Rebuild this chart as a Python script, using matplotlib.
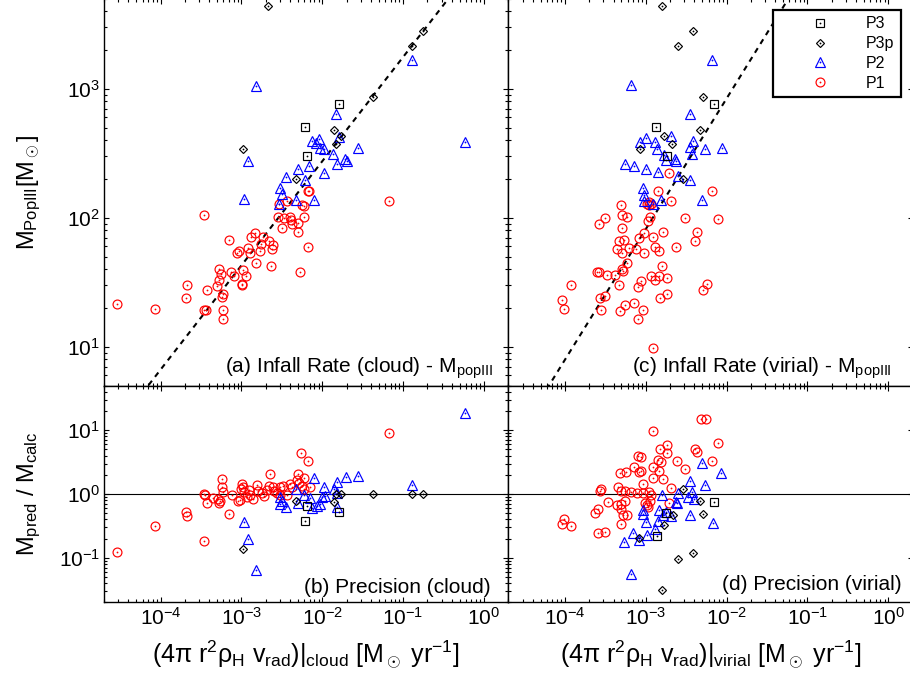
import numpy as np
import matplotlib
matplotlib.use('Agg')
import matplotlib.pyplot as plt

plt.rcParams['font.family'] = ['Liberation Sans', 'DejaVu Sans']
plt.rcParams['mathtext.fontset'] = 'custom'
plt.rcParams['mathtext.rm'] = 'Liberation Sans'
plt.rcParams['mathtext.it'] = 'Liberation Sans:italic'
plt.rcParams['mathtext.bf'] = 'Liberation Sans:bold'
plt.rcParams['mathtext.sf'] = 'Liberation Sans'
plt.rcParams['axes.linewidth'] = 1.0

# all values are log10 of the quantity
# (a) cloud infall rate vs Pop III mass
a_p3_rate = [-1.794, -2.218, -2.189]
a_p3_mass = [2.879, 2.703, 2.481]
a_p3p_rate = [-2.675, -0.757, -0.893, -1.374, -1.860, -1.770, -1.835, -2.979, -2.329]
a_p3p_mass = [3.643, 3.447, 3.336, 2.938, 2.682, 2.638, 2.576, 2.532, 2.302]
a_p2_rate = [-2.823, -0.889, -0.239, -1.827, -2.123, -2.041, -2.074, -2.025, -1.975,
             -1.794, -1.560, -1.868, -1.724, -1.695, -1.819, -2.918, -2.296, -2.165,
             -2.453, -2.214, -1.975, -2.527, -2.494, -2.329, -2.103, -2.963, -2.539]
a_p2_mass = [3.026, 3.222, 2.592, 2.809, 2.599, 2.612, 2.581, 2.540, 2.532,
             2.628, 2.543, 2.494, 2.457, 2.444, 2.421, 2.442, 2.382, 2.403,
             2.318, 2.292, 2.351, 2.233, 2.183, 2.137, 2.142, 2.145, 2.106]
a_p1_rate = [-3.465, -1.177, -2.181, -2.165, -2.247, -2.230, -2.531, -2.436, -2.551,
             -2.477, -2.395, -2.383, -2.230, -2.494, -2.374, -2.305, -2.296, -2.181,
             -2.831, -2.881, -2.733, -2.658, -2.609, -2.617, -3.152, -3.029, -3.049,
             -2.914, -2.897, -2.774, -2.757, -2.815, -2.634, -2.272, -3.276, -3.251,
             -3.280, -3.300, -3.128, -3.095, -2.979, -2.947, -2.988, -2.996, -3.671,
             -3.687, -3.424, -3.230, -3.235, -3.457, -3.440, -3.230, -3.230, -4.066, -4.535]
a_p1_mass = [2.021, 2.132, 2.207, 2.207, 2.101, 2.093, 2.111, 2.127, 2.003,
             1.997, 2.003, 1.987, 2.003, 1.920, 1.951, 1.961, 1.891, 1.775,
             1.886, 1.848, 1.848, 1.817, 1.788, 1.755, 1.827, 1.744, 1.724,
             1.770, 1.731, 1.744, 1.801, 1.651, 1.630, 1.581, 1.602, 1.563,
             1.522, 1.470, 1.584, 1.553, 1.594, 1.553, 1.491, 1.483, 1.478,
             1.382, 1.437, 1.413, 1.388, 1.287, 1.287, 1.289, 1.214, 1.297, 1.336]

# (c) virial infall rate vs Pop III mass
c_p3_rate = [-2.152, -2.868, -2.737]
c_p3_mass = [2.879, 2.703, 2.481]
c_p3p_rate = [-2.798, -2.412, -2.605, -2.292, -2.333, -2.778, -2.671, -3.074, -2.535]
c_p3p_mass = [3.643, 3.447, 3.336, 2.938, 2.682, 2.633, 2.576, 2.532, 2.300]
c_p2_rate = [-3.177, -2.177, -2.062, -2.457, -3.074, -2.992, -2.889, -2.683, -2.860,
             -2.412, -2.449, -2.263, -2.774, -2.753, -2.634, -2.621, -2.428, -3.259,
             -3.144, -2.992, -2.844, -2.605, -2.449, -3.037, -3.025, -3.021, -2.909,
             -2.811, -2.309]
c_p2_mass = [3.031, 3.222, 2.540, 2.809, 2.592, 2.618, 2.592, 2.633, 2.535,
             2.599, 2.548, 2.535, 2.488, 2.447, 2.460, 2.442, 2.494, 2.419,
             2.401, 2.382, 2.357, 2.323, 2.297, 2.233, 2.181, 2.132, 2.106,
             2.142, 2.142]
c_p1_rate = [-2.708, -2.181, -2.844, -2.683, -3.300, -2.990, -2.960, -2.930, -2.960,
             -3.292, -3.230, -3.502, -3.580, -2.947, -2.967, -2.519, -2.107, -3.292,
             -3.025, -2.790, -2.370, -3.078, -2.905, -2.395, -3.329, -3.267, -3.202,
             -3.358, -3.292, -3.119, -3.021, -2.889, -2.840, -2.621, -3.235, -2.798,
             -3.292, -3.276, -3.605, -3.580, -3.473, -3.374, -2.938, -2.840, -2.889,
             -2.737, -3.062, -3.095, -3.333, -3.926, -2.239, -2.296, -2.733, -2.823,
             -3.506, -3.564, -4.033, -4.016, -3.547, -3.317, -3.251, -3.144, -3.037,
             -3.095, -2.905]
c_p1_mass = [2.346, 2.207, 2.207, 2.132, 2.098, 2.106, 2.101, 2.106, 2.121,
             2.021, 2.003, 1.997, 1.951, 2.003, 1.977, 1.997, 1.995, 1.920,
             1.884, 1.891, 1.891, 1.842, 1.848, 1.819, 1.817, 1.827, 1.770,
             1.755, 1.724, 1.755, 1.731, 1.775, 1.744, 1.775, 1.651, 1.630,
             1.605, 1.589, 1.581, 1.581, 1.556, 1.558, 1.553, 1.548, 1.522,
             1.530, 1.509, 1.465, 1.481, 1.481, 1.488, 1.437, 1.413, 1.382,
             1.393, 1.377, 1.362, 1.297, 1.289, 1.279, 1.323, 1.341, 1.289,
             1.214, 0.995]

# (b) cloud infall rate vs M_pred / M_calc
b_p3_rate = [-2.189, -2.218, -1.794]
b_p3_prec = [-0.187, -0.431, -0.275]
b_p3p_rate = [-2.979, -2.329, -1.860, -1.835, -1.770, -1.374, -0.893, -0.757]
b_p3p_prec = [-0.862, -0.114, -0.119, 0.0, 0.0, 0.0, 0.0, 0.0]
b_p2_rate = [-0.239, -2.099, -1.975, -1.819, -1.704, -1.564, -0.889, -1.860, -2.321,
             -2.222, -2.156, -2.008, -1.967, -2.527, -2.519, -2.453, -2.305, -2.123,
             -2.066, -2.033, -1.819, -2.963, -2.914, -2.823, -1.819, -2.500]
b_p2_prec = [1.273, 0.244, 0.114, 0.192, 0.260, 0.281, 0.145, 0.073, 0.073,
             -0.021, -0.068, -0.052, -0.031, -0.052, -0.156, -0.208, -0.145, -0.223,
             -0.182, -0.156, -0.197, -0.442, -0.701, -1.200, 0.010, -0.104]
b_p1_rate = [-4.535, -4.066, -3.687, -3.671, -3.465, -3.152, -1.177, -2.263, -2.181,
             -2.305, -2.642, -3.235, -2.222,
             -3.457, -3.449, -3.424, -3.292, -3.276, -3.259, -3.239, -3.226, -3.115,
             -3.045, -3.021, -2.996, -2.979, -2.963, -2.930, -2.897, -2.856, -2.807,
             -2.790, -2.741, -2.683, -2.658, -2.609, -2.560, -2.519, -2.486, -2.436,
             -2.403, -2.379, -2.288, -2.255, -2.230, -2.156, -2.519, -2.313,
             -3.350, -2.900, -2.600, -2.720, -3.000]
b_p1_prec = [-0.914, -0.509, -0.286, -0.353, -0.743, -0.312, 0.961, 0.649, 0.514,
             0.312, 0.306, 0.229, 0.249,
             0.0, -0.021, -0.135, -0.083, -0.145, -0.114, 0.114, 0.036, -0.021,
             -0.114, -0.094, 0.156, 0.114, 0.036, -0.042, -0.016, -0.083, 0.135,
             0.042, 0.010, 0.062, 0.125, 0.114, 0.010, 0.114, 0.125, -0.021,
             0.156, 0.114, 0.177, 0.125, 0.073, 0.104, -0.016, 0.218,
             -0.060, 0.060, 0.050, -0.030, 0.080]

# (d) virial infall rate vs M_pred / M_calc
d_p3_rate = [-2.156, -2.749, -2.860]
d_p3_prec = [-0.125, -0.302, -0.656]
d_p3p_rate = [-2.535, -2.329, -2.667, -2.288, -2.774, -3.078, -2.601, -2.412, -2.798]
d_p3p_prec = [0.073, -0.104, -0.333, -0.313, -0.490, -0.698, -1.016, -0.932, -1.510]
d_p2_rate = [-2.305, -2.066, -2.453, -2.263, -2.428, -2.601, -2.798, -2.477, -2.403,
             -2.626, -2.609, -2.840, -2.749, -2.691, -2.782, -3.037, -3.029, -2.453,
             -2.992, -2.848, -2.173, -2.881, -3.152, -2.979, -3.078, -3.267, -3.177]
d_p2_prec = [0.479, 0.333, 0.198, 0.141, 0.026, 0.010, -0.021, -0.052, -0.073,
             -0.125, -0.146, -0.250, -0.281, -0.344, -0.333, -0.313, -0.250, -0.323,
             -0.438, -0.427, -0.448, -0.542, -0.615, -0.646, -0.719, -0.750, -1.250]
d_p1_rate = [-2.313, -2.251, -2.905, -2.107, -2.733, -2.823, -2.387, -2.362, -2.733,
             -3.095, -3.053, -2.181, -2.848, -2.807, -2.617, -2.905, -2.831, -2.519,
             -3.144, -3.078, -3.053, -3.317, -3.243, -2.905, -2.790, -3.029, -2.683,
             -3.342, -3.547, -3.564, -3.300, -3.251, -3.177, -3.111, -3.029, -2.963,
             -2.930, -3.465, -3.358, -3.300, -3.259, -3.012, -2.979, -2.947, -2.971,
             -2.708, -3.588, -3.621, -3.300, -3.276, -3.235, -3.300, -4.016, -4.033,
             -3.926, -3.588, -3.506]
d_p1_prec = [1.172, 1.172, 0.990, 0.807, 0.766, 0.698, 0.698, 0.656, 0.646,
             0.599, 0.583, 0.521, 0.531, 0.500, 0.516, 0.417, 0.359, 0.396,
             0.417, 0.344, 0.365, 0.323, 0.344, 0.245, 0.240, 0.156, 0.094,
             0.104, 0.073, 0.052, 0.052, 0.052, 0.031, 0.010, 0.010, 0.031,
             -0.010, -0.120, -0.177, -0.156, -0.104, -0.146, -0.167, -0.115, -0.198,
             -0.135, -0.240, -0.292, -0.240, -0.323, -0.323, -0.469, -0.396, -0.469,
             -0.500, -0.615, -0.594]

# fitted relations (log M = slope * log rate + icpt)
fit_cloud = (0.808, 4.055)
fit_virial = (1.013, 4.951)

styles = {
    'P1': ('o', 'red', 6.4),
    'P2': ('^', 'blue', 6.5),
    'P3p': ('D', 'black', 3.7),
    'P3': ('s', 'black', 5.4),
}


def draw(ax, lx, ly, name):
    marker, color, ms = styles[name]
    x = np.power(10.0, lx)
    y = np.power(10.0, ly)
    h1, = ax.plot(x, y, ls='none', marker=marker, ms=ms, mfc='none', mec=color, mew=0.85)
    h2, = ax.plot(x, y, ls='none', marker='o', ms=1.3, mfc=color, mec=color, mew=0)
    return (h1, h2)


def setup(ax, ylim):
    ax.set_xscale('log')
    ax.set_yscale('log')
    ax.set_xlim(2e-5, 2)
    ax.set_ylim(*ylim)
    ax.tick_params(which='both', direction='in', top=True, right=True, width=0.8, labelsize=15)
    ax.tick_params(which='major', length=3.6)
    ax.tick_params(which='minor', length=2.0)
    ax.tick_params(axis='x', pad=3)
    ax.tick_params(axis='y', pad=3)


fig = plt.figure(figsize=(9.1, 6.8), dpi=100)
ax_a = fig.add_axes([0.1143, 0.4328, 0.4443, 0.5691])
ax_c = fig.add_axes([0.5586, 0.4328, 0.4443, 0.5691])
ax_b = fig.add_axes([0.1143, 0.1143, 0.4443, 0.3185])
ax_d = fig.add_axes([0.5586, 0.1143, 0.4443, 0.3185])

for ax in (ax_a, ax_c):
    setup(ax, (5, 5000))
    ax.tick_params(labelbottom=False)
for ax in (ax_b, ax_d):
    setup(ax, (0.02, 50))
    ax.axhline(1.0, color='k', lw=0.8)
for ax in (ax_c, ax_d):
    ax.tick_params(labelleft=False)

line_x = np.array([-4.7, 0.3])
for ax, (slope, icpt) in ((ax_a, fit_cloud), (ax_c, fit_virial)):
    ax.plot(10 ** line_x, 10 ** (slope * line_x + icpt), color='k', lw=1.5,
            ls=(0, (2.6, 2.4)))

draw(ax_a, a_p1_rate, a_p1_mass, 'P1')
draw(ax_a, a_p2_rate, a_p2_mass, 'P2')
draw(ax_a, a_p3p_rate, a_p3p_mass, 'P3p')
draw(ax_a, a_p3_rate, a_p3_mass, 'P3')

h_p1 = draw(ax_c, c_p1_rate, c_p1_mass, 'P1')
h_p2 = draw(ax_c, c_p2_rate, c_p2_mass, 'P2')
h_p3p = draw(ax_c, c_p3p_rate, c_p3p_mass, 'P3p')
h_p3 = draw(ax_c, c_p3_rate, c_p3_mass, 'P3')

draw(ax_b, b_p1_rate, b_p1_prec, 'P1')
draw(ax_b, b_p2_rate, b_p2_prec, 'P2')
draw(ax_b, b_p3p_rate, b_p3p_prec, 'P3p')
draw(ax_b, b_p3_rate, b_p3_prec, 'P3')

draw(ax_d, d_p1_rate, d_p1_prec, 'P1')
draw(ax_d, d_p2_rate, d_p2_prec, 'P2')
draw(ax_d, d_p3p_rate, d_p3p_prec, 'P3p')
draw(ax_d, d_p3_rate, d_p3_prec, 'P3')

ax_a.text(0.962, 0.034, r'(a) Infall Rate (cloud) - M$_{\rm popIII}$', transform=ax_a.transAxes,
          ha='right', va='baseline', fontsize=15)
ax_c.text(0.947, 0.034, r'(c) Infall Rate (virial) - M$_{\rm popIII}$', transform=ax_c.transAxes,
          ha='right', va='baseline', fontsize=15)
ax_b.text(0.955, 0.045, '(b) Precision (cloud)', transform=ax_b.transAxes,
          ha='right', va='baseline', fontsize=15)
ax_d.text(0.973, 0.055, '(d) Precision (virial)', transform=ax_d.transAxes,
          ha='right', va='baseline', fontsize=15)

ax_a.set_ylabel(r'M$_{\rm PopIII}$[M$_\odot$]', fontsize=17)
ax_b.set_ylabel(r'M$_{\rm pred}$ / M$_{\rm calc}$', fontsize=17)
ax_a.yaxis.set_label_coords(-0.15, 0.5)
ax_b.yaxis.set_label_coords(-0.15, 0.5)

ax_b.set_xlabel(r'(4$\mathrm{\pi}$ r$^2$$\mathrm{\rho}_{\rm H}$ v$_{\rm rad}$)|$_{\rm cloud}$ [M$_\odot$ yr$^{-1}$]',
                fontsize=18)
ax_d.set_xlabel(r'(4$\mathrm{\pi}$ r$^2$$\mathrm{\rho}_{\rm H}$ v$_{\rm rad}$)|$_{\rm virial}$ [M$_\odot$ yr$^{-1}$]',
                fontsize=18)
ax_b.xaxis.set_label_coords(0.5, -0.165)
ax_d.xaxis.set_label_coords(0.5, -0.165)

leg = ax_c.legend([h_p3, h_p3p, h_p2, h_p1], ['P3', 'P3p', 'P2', 'P1'],
                  loc='upper right', bbox_to_anchor=(900.7 / 910, 1 - 10 / 680),
                  bbox_transform=fig.transFigure, borderaxespad=0, fontsize=11.5,
                  handlelength=5.0, handletextpad=0.4, labelspacing=0.3, borderpad=0.4,
                  fancybox=False, edgecolor='k', framealpha=1, numpoints=1)
leg.get_frame().set_linewidth(1.6)

fig.savefig('out.png', dpi=100)
